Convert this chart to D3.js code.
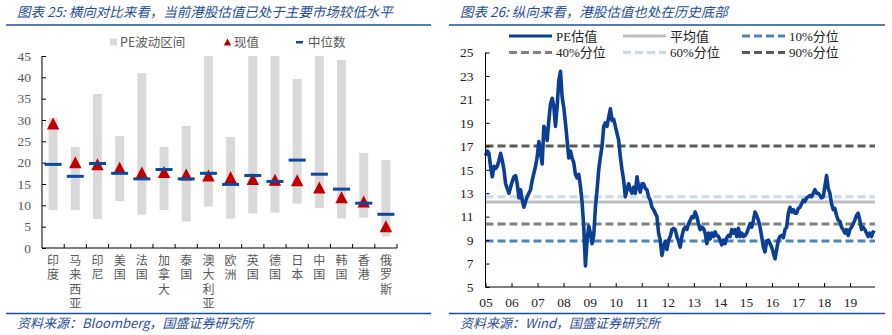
<!DOCTYPE html>
<html>
<head>
<meta charset="utf-8">
<script src="https://cdn.jsdelivr.net/npm/d3@7"></script>
<style>
  html, body { margin: 0; padding: 0; background: #fff; }
  svg { display: block; }
  .vlabel { writing-mode: vertical-rl; text-orientation: upright; }
</style>
</head>
<body>
<svg id="chart" width="892" height="335"></svg>
<script>
// ---- Left panel: PE range by market ----
const countries = ["印度","马来西亚","印尼","美国","法国","加拿大","泰国","澳大利亚","欧洲","英国","德国","日本","中国","韩国","香港","俄罗斯"];
const peLow    = [8.9, 8.9, 6.8, 11.0, 7.8, 8.9, 6.2, 9.7, 6.9, 8.1, 8.3, 10.4, 9.4, 6.9, 7.1, 2.7];
const peHigh   = [30.5, 23.7, 36.1, 26.2, 41.0, 23.7, 28.6, 45.0, 26.0, 45.0, 45.0, 39.6, 45.0, 44.1, 22.3, 20.6];
const peNow    = [29.2, 20.1, 19.6, 18.8, 17.7, 17.8, 17.2, 17.0, 16.6, 16.2, 16.0, 15.9, 14.2, 11.9, 10.9, 5.1];
const peMedian = [19.6, 16.8, 19.8, 17.5, 16.2, 18.4, 16.2, 17.5, 14.9, 17.0, 15.6, 20.6, 17.3, 13.8, 10.5, 7.9];
const leftTicks = [0, 5, 10, 15, 20, 25, 30, 35, 40, 45];

// ---- Right panel: Hang Seng PE history ----
const hkStart = "2005-01-03";
const hkEnd = "2019-12-13";
const hkPE = [
  16.2,16.6,16.4,15.2,14.4,15.3,15.1,15.3,15.8,16.4,15.8,15.0,13.8,13.4,13.0,13.5,14.0,14.4,14.5,13.8,
  12.6,13.3,12.4,11.8,12.3,12.7,13.0,13.3,14.1,14.7,15.3,16.1,17.4,16.4,15.5,18.7,18.4,17.5,19.2,20.6,
  21.1,20.4,18.7,20.4,22.6,23.4,21.2,20.3,19.0,17.5,16.0,16.6,16.0,15.6,14.6,14.3,14.6,13.6,12.2,10.1,
  6.8,9.0,10.2,9.6,8.7,9.4,11.8,13.3,15.0,16.1,17.0,18.7,19.0,18.7,19.5,20.2,19.2,19.3,18.7,18.1,
  17.5,16.1,15.0,14.1,12.7,13.3,13.8,13.3,13.0,13.5,13.0,14.4,13.5,13.1,13.8,13.8,13.4,13.3,12.7,12.4,
  11.8,11.6,11.3,11.0,9.6,9.0,7.7,8.4,8.9,8.2,9.0,9.3,9.9,10.0,9.9,9.3,8.9,8.4,
  9.3,9.9,10.1,9.9,10.4,10.7,11.0,10.9,11.4,11.0,10.4,9.9,10.1,10.0,9.6,8.7,9.6,9.1,9.6,9.3,
  9.7,9.4,9.3,9.0,8.6,9.0,8.7,9.2,9.4,9.3,9.9,9.6,9.9,9.3,10.0,9.3,9.6,9.3,9.4,9.6,
  10.0,10.4,10.1,10.7,11.4,11.1,10.7,10.1,9.3,8.4,8.0,8.9,9.0,8.7,8.4,7.9,7.4,8.2,9.0,9.3,
  9.4,9.2,9.9,10.1,11.3,11.8,11.4,11.6,11.3,11.3,11.7,11.8,12.1,12.4,12.3,12.6,12.7,12.8,12.7,13.0,
  13.3,13.0,13.0,12.8,12.6,12.7,13.6,14.5,13.4,13.0,12.1,11.6,11.7,11.1,10.7,10.6,10.1,9.9,9.6,9.9,
  9.4,9.9,10.1,10.4,10.7,11.1,11.3,10.7,9.9,10.1,9.9,9.6,9.3,9.6,9.3,9.7,9.6
];
const refLines = [
  { name: "平均值", value: 12.25, color: "#bfbfbf", dash: null },
  { name: "10%分位", value: 8.92, color: "#4f81bd", dash: "8,4" },
  { name: "40%分位", value: 10.37, color: "#808080", dash: "8,4" },
  { name: "60%分位", value: 12.70, color: "#c6d9f1", dash: "8,4" },
  { name: "90%分位", value: 17.02, color: "#595959", dash: "8,4" }
];
const rightTicks = [5, 7, 9, 11, 13, 15, 17, 19, 21, 23, 25];
const yearTicks = d3.range(2005, 2020);

const titleColor = "#1f4e9c";
const cjk = "'Noto Sans CJK SC', 'Noto Sans', sans-serif";
const serif = "'Liberation Serif', 'Noto Sans CJK SC', serif";

const svg = d3.select("#chart");

// ---------- headers and footers ----------
function frame(x0, x1, title, source, tx) {
  svg.append("text").attr("x", tx).attr("y", 17)
    .attr("font-family", cjk).attr("font-size", 13.5).attr("font-style", "italic")
    .attr("fill", titleColor).text(title);
  svg.append("line").attr("x1", x0).attr("x2", x1).attr("y1", 25).attr("y2", 25)
    .attr("stroke", titleColor).attr("stroke-width", 1.3);
  svg.append("line").attr("x1", x0).attr("x2", x1).attr("y1", 313.5).attr("y2", 313.5)
    .attr("stroke", titleColor).attr("stroke-width", 1.3);
  svg.append("text").attr("x", tx).attr("y", 328)
    .attr("font-family", cjk).attr("font-size", 13).attr("font-style", "italic")
    .attr("fill", titleColor).text(source);
}
frame(6, 431, "图表 25:  横向对比来看，当前港股估值已处于主要市场较低水平", "资料来源：Bloomberg，国盛证券研究所", 17);
frame(449, 885, "图表 26:  纵向来看，港股估值也处在历史底部", "资料来源：Wind，国盛证券研究所", 460);

// ---------- left panel ----------
const xL = d3.scaleBand().domain(countries).range([42, 397]);
const yL = d3.scaleLinear().domain([0, 45]).range([248, 56]);
const left = svg.append("g");

const rows = countries.map((c, i) => ({ c, lo: peLow[i], hi: peHigh[i], now: peNow[i], med: peMedian[i] }));

left.selectAll("rect.range").data(rows).join("rect").attr("class", "range")
  .attr("x", d => xL(d.c) + xL.bandwidth() / 2 - 4.5)
  .attr("width", 9)
  .attr("y", d => yL(d.hi))
  .attr("height", d => yL(d.lo) - yL(d.hi))
  .attr("fill", "#d9d9d9");

const tri = (cx, cy, w, h) => `M${cx},${cy - h / 2}L${cx + w / 2},${cy + h / 2}L${cx - w / 2},${cy + h / 2}Z`;
left.selectAll("path.now").data(rows).join("path").attr("class", "now")
  .attr("d", d => tri(xL(d.c) + xL.bandwidth() / 2, yL(d.now), 12.5, 12))
  .attr("fill", "#c00000");

left.selectAll("rect.med").data(rows).join("rect").attr("class", "med")
  .attr("x", d => xL(d.c) + xL.bandwidth() / 2 - 8.5)
  .attr("width", 17)
  .attr("y", d => yL(d.med) - 1.5)
  .attr("height", 3)
  .attr("fill", "#0b4a9e");

// y axis
const yAxisL = left.append("g").attr("transform", "translate(42,0)")
  .call(d3.axisRight(yL).tickValues(leftTicks).tickSize(4).tickFormat(d3.format("d")));
yAxisL.select(".domain").remove();
yAxisL.selectAll(".tick line").attr("stroke", "#000");
yAxisL.selectAll(".tick text").attr("x", -11).attr("text-anchor", "end")
  .attr("font-family", serif).attr("font-size", 13.5).attr("fill", "#595959");
left.append("line").attr("x1", 42).attr("x2", 42).attr("y1", 56).attr("y2", 248)
  .attr("stroke", "#000").attr("stroke-width", 1);

// x axis with ticks on band boundaries
left.append("line").attr("x1", 42).attr("x2", 397).attr("y1", 248).attr("y2", 248)
  .attr("stroke", "#000").attr("stroke-width", 1);
left.selectAll("line.xt").data(countries).join("line").attr("class", "xt")
  .attr("x1", d => xL(d) + xL.bandwidth())
  .attr("x2", d => xL(d) + xL.bandwidth())
  .attr("y1", 248).attr("y2", 244).attr("stroke", "#000");

// vertical category labels, one text per category
left.selectAll("text.cat").data(countries).join("text").attr("class", "cat vlabel")
  .attr("x", d => xL(d) + xL.bandwidth() / 2)
  .attr("y", 254.5)
  .attr("font-family", cjk).attr("font-size", 12).attr("fill", "#595959")
  .attr("letter-spacing", 2.3)
  .text(d => d);

// legend
const legL = left.append("g").attr("font-family", cjk).attr("font-size", 12.5).attr("fill", "#595959");
legL.append("rect").attr("x", 110).attr("y", 38.5).attr("width", 7).attr("height", 7).attr("fill", "#d9d9d9");
legL.append("text").attr("x", 120).attr("y", 46.5).text("PE波动区间");
legL.append("path").attr("d", tri(227.5, 42, 7.5, 7)).attr("fill", "#c00000");
legL.append("text").attr("x", 234).attr("y", 46.5).text("现值");
legL.append("rect").attr("x", 296).attr("y", 41).attr("width", 7).attr("height", 2.5).attr("fill", "#0b4a9e");
legL.append("text").attr("x", 308).attr("y", 46.5).text("中位数");

// ---------- right panel ----------
const parse = d3.timeParse("%Y-%m-%d");
const t0 = parse(hkStart), t1 = parse(hkEnd);
const xR = d3.scaleTime().domain([new Date(2005, 0, 1), new Date(2019, 11, 16)]).range([485.5, 875]);
const yR = d3.scaleLinear().domain([5, 25]).range([287, 52.5]);
const step = (t1 - t0) / (hkPE.length - 1);
const series = hkPE.map((v, i) => ({ date: new Date(+t0 + i * step), v }));

const right = svg.append("g");

right.selectAll("line.ref").data(refLines).join("line").attr("class", "ref")
  .attr("x1", 485.5).attr("x2", 875)
  .attr("y1", d => yR(d.value)).attr("y2", d => yR(d.value))
  .attr("stroke", d => d.color).attr("stroke-width", 3)
  .attr("stroke-dasharray", d => d.dash);

right.append("path").datum(series)
  .attr("d", d3.line().x(d => xR(d.date)).y(d => yR(d.v)))
  .attr("fill", "none").attr("stroke", "#0b3f96").attr("stroke-width", 3.6)
  .attr("stroke-linejoin", "round");

const yAxisR = right.append("g").attr("transform", "translate(485.5,0)")
  .call(d3.axisRight(yR).tickValues(rightTicks).tickSize(4).tickFormat(d3.format("d")));
yAxisR.select(".domain").remove();
yAxisR.selectAll(".tick line").attr("stroke", "#000");
yAxisR.selectAll(".tick text").attr("x", -12).attr("text-anchor", "end")
  .attr("font-family", serif).attr("font-size", 13.5).attr("fill", "#222");
right.append("line").attr("x1", 485.5).attr("x2", 485.5).attr("y1", 52.5).attr("y2", 287)
  .attr("stroke", "#000");

const xAxisR = right.append("g").attr("transform", "translate(0,287)")
  .call(d3.axisTop(xR).tickValues(yearTicks.map(y => new Date(y, 0, 1))).tickSize(4)
    .tickFormat(d3.timeFormat("%y")));
xAxisR.select(".domain").remove();
xAxisR.selectAll(".tick line").attr("stroke", "#000");
xAxisR.selectAll(".tick text").attr("y", 20).attr("dy", 0)
  .attr("font-family", serif).attr("font-size", 13.5).attr("fill", "#222");
right.append("line").attr("x1", 485.5).attr("x2", 875).attr("y1", 287).attr("y2", 287)
  .attr("stroke", "#000");

// legend
const legendItems = [
  { name: "PE估值", color: "#0b3f96", dash: null, x: 509, y: 36 },
  { name: refLines[0].name, color: refLines[0].color, dash: null, x: 623, y: 36 },
  { name: refLines[1].name, color: refLines[1].color, dash: refLines[1].dash, x: 742, y: 36 },
  { name: refLines[2].name, color: refLines[2].color, dash: refLines[2].dash, x: 509, y: 52.5 },
  { name: refLines[3].name, color: refLines[3].color, dash: refLines[3].dash, x: 623, y: 52.5 },
  { name: refLines[4].name, color: refLines[4].color, dash: refLines[4].dash, x: 742, y: 52.5 }
];
const legR = right.selectAll("g.leg").data(legendItems).join("g").attr("class", "leg");
legR.append("line")
  .attr("x1", d => d.x).attr("x2", d => d.x + 43)
  .attr("y1", d => d.y).attr("y2", d => d.y)
  .attr("stroke", d => d.color).attr("stroke-width", 3)
  .attr("stroke-dasharray", d => d.dash);
legR.append("text")
  .attr("x", d => d.x + 47).attr("y", d => d.y + 4.5)
  .attr("font-family", serif).attr("font-size", 13).attr("fill", "#222")
  .text(d => d.name);
</script>
</body>
</html>
